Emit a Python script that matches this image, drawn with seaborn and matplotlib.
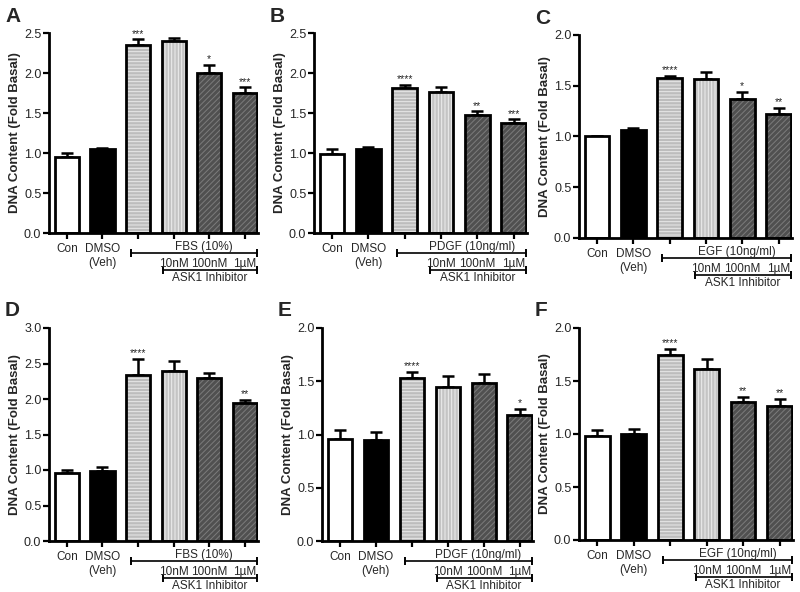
import numpy as np
import pandas as pd
import matplotlib
matplotlib.use("Agg")
import matplotlib.pyplot as plt
import matplotlib.transforms as mtransforms
from matplotlib.patches import Rectangle
import seaborn as sns

# ---- data ----
conditions = ["Con", "DMSO", "Stim", "10nM", "100nM", "1µM"]
tick_labels = ["Con", "DMSO\n(Veh)", "", "", "", ""]
dose_labels = ["10nM", "100nM", "1µM"]
panel_letters = ["A", "B", "C", "D", "E", "F"]
stimulus_labels = ["FBS (10%)", "PDGF (10ng/ml)", "EGF (10ng/ml)",
                   "FBS (10%)", "PDGF (10ng/ml)", "EGF (10ng/ml)"]
y_max = [2.5, 2.5, 2.0, 3.0, 2.0, 2.0]

mean_a = [0.95, 1.05, 2.35, 2.40, 2.00, 1.75]
sem_a = [0.05, 0.01, 0.07, 0.04, 0.10, 0.07]
stars_a = ["", "", "***", "", "*", "***"]

mean_b = [0.99, 1.05, 1.81, 1.76, 1.47, 1.38]
sem_b = [0.06, 0.02, 0.04, 0.06, 0.05, 0.04]
stars_b = ["", "", "****", "", "**", "***"]

mean_c = [1.00, 1.06, 1.58, 1.57, 1.37, 1.22]
sem_c = [0.00, 0.02, 0.02, 0.07, 0.07, 0.06]
stars_c = ["", "", "****", "", "*", "**"]

mean_d = [0.96, 0.98, 2.34, 2.40, 2.30, 1.95]
sem_d = [0.04, 0.06, 0.22, 0.14, 0.06, 0.04]
stars_d = ["", "", "****", "", "", "**"]

mean_e = [0.96, 0.95, 1.53, 1.45, 1.48, 1.18]
sem_e = [0.08, 0.07, 0.06, 0.10, 0.09, 0.06]
stars_e = ["", "", "****", "", "", "*"]

mean_f = [0.98, 1.00, 1.75, 1.61, 1.30, 1.26]
sem_f = [0.06, 0.05, 0.05, 0.10, 0.05, 0.07]
stars_f = ["", "", "****", "", "**", "**"]

means = [mean_a, mean_b, mean_c, mean_d, mean_e, mean_f]
sems = [sem_a, sem_b, sem_c, sem_d, sem_e, sem_f]
stars = [stars_a, stars_b, stars_c, stars_d, stars_e, stars_f]

# bar styling
face_colors = ["white", "black", "#bdbdbd", "#c4c4c4", "#505050", "#505050"]
hatch_colors = ["white", "black", "#eaeaea", "#eeeeee", "#7c7c7c", "#7c7c7c"]
hatches = ["", "", "-----", "|||||", "//////", "//////"]

# axes boxes in pixels: left, top, right, bottom
boxes = [(49, 33, 258, 233), (314, 33, 527, 233), (579, 35, 792, 238),
         (49, 328, 258, 541), (322, 328, 533, 541), (579, 328, 793, 540)]

sns.set_theme(style="ticks")
plt.rcParams["font.family"] = ["Liberation Sans", "DejaVu Sans"]
plt.rcParams["hatch.linewidth"] = 0.7

W, H = 800, 592
fig = plt.figure(figsize=(W / 100, H / 100), dpi=100)


def below(ax, px):
    return mtransforms.offset_copy(ax.get_xaxis_transform(), fig=fig, y=-px, units="dots")


for i in range(6):
    l, t, r, b = boxes[i]
    ax = fig.add_axes([l / W, 1 - b / H, (r - l) / W, (b - t) / H])
    df = pd.DataFrame({"cond": conditions, "val": means[i]})
    sns.barplot(data=df, x="cond", y="val", hue="cond", palette=face_colors,
                legend=False, width=0.68, errorbar=None, ax=ax, zorder=2)

    for j, p in enumerate(ax.patches[:6]):
        p.set_facecolor(face_colors[j])
        p.set_edgecolor(hatch_colors[j])
        p.set_hatch(hatches[j])
        p.set_linewidth(0)
        ax.add_patch(Rectangle(p.get_xy(), p.get_width(), p.get_height(),
                               fill=False, edgecolor="black", lw=2.0, zorder=3))

    x = np.arange(6)
    ax.errorbar(x, means[i], yerr=[np.zeros(6), sems[i]], fmt="none",
                ecolor="black", elinewidth=1.8, capsize=4.5, capthick=1.8, zorder=1)
    for j in range(6):
        if stars[i][j]:
            ax.annotate(stars[i][j], (j, means[i][j] + sems[i][j]),
                        xytext=(0, 0.5), textcoords="offset points",
                        ha="center", va="bottom", fontsize=7.5)

    ax.set_xlim(-0.5, 5.37)
    ax.set_ylim(0, y_max[i])
    ax.set_yticks(np.arange(0, y_max[i] + 0.01, 0.5))
    ax.set_yticklabels([f"{v:.1f}" for v in np.arange(0, y_max[i] + 0.01, 0.5)])
    ax.set_xticks(x)
    ax.set_xticklabels(tick_labels)
    ax.set_xlabel("")
    ax.set_ylabel("DNA Content (Fold Basal)", fontsize=9.5, fontweight="bold", labelpad=2)
    ax.tick_params(axis="y", labelsize=9, width=1.6, length=4, pad=1.5, color="black")
    ax.tick_params(axis="x", labelsize=8.5, width=1.6, length=4, pad=3, color="black")
    sns.despine(ax=ax)
    for s in ["left", "bottom"]:
        ax.spines[s].set_linewidth(2.0)
        ax.spines[s].set_color("black")

    # grouping annotations under the axis
    ax.text(3.85, 0, stimulus_labels[i], transform=below(ax, 14), ha="center",
            va="center", fontsize=8.5)
    ax.plot([1.8, 5.33], [0, 0], transform=below(ax, 20), color="black", lw=1.2,
            clip_on=False)
    for xe in [1.8, 5.33]:
        ax.plot([xe, xe], [0, 0], transform=below(ax, 20), marker="|", ms=6,
                mew=1.2, color="black", clip_on=False)
    for k, lab in enumerate(dose_labels):
        ax.text(3 + k, 0, lab, transform=below(ax, 31), ha="center", va="center", fontsize=8.5)
    ax.plot([2.7, 5.33], [0, 0], transform=below(ax, 37), color="black", lw=1.2,
            clip_on=False)
    for xe in [2.7, 5.33]:
        ax.plot([xe, xe], [0, 0], transform=below(ax, 37), marker="|", ms=6,
                mew=1.2, color="black", clip_on=False)
    ax.text(4.0, 0, "ASK1 Inhibitor", transform=below(ax, 45), ha="center",
            va="center", fontsize=8.5)

    fig.text((l - 44) / W, 1 - (t - 17) / H, panel_letters[i], fontsize=15,
             fontweight="bold", ha="left", va="center")

fig.savefig("out.png", dpi=100)
